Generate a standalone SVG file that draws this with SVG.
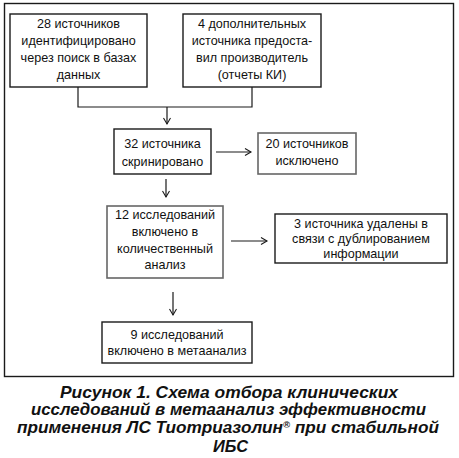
<svg xmlns="http://www.w3.org/2000/svg" width="459" height="458" viewBox="0 0 459 458">
<style>
.box{fill:#fff;stroke:#1a1a1a;stroke-width:1.4}
.gbox{fill:#fff;stroke:#666;stroke-width:1.6}
.t{font-family:"Liberation Sans",Arial,sans-serif;font-size:12.6px;fill:#111;text-anchor:middle}
.c{fill:none;stroke:#1a1a1a;stroke-width:1.2}
.cap{font-family:"Liberation Sans",Arial,sans-serif;font-size:16.4px;font-weight:bold;font-style:italic;fill:#111;text-anchor:middle}
</style>
<defs>
<marker id="arr" markerUnits="userSpaceOnUse" markerWidth="12" markerHeight="12" viewBox="-7 -6 8 12" refX="0" refY="0" orient="auto">
<path d="M-6,-3.5 L0,0 L-6,3.5" fill="none" stroke="#1a1a1a" stroke-width="1.1"/>
</marker>
</defs>
<rect x="4.5" y="3.5" width="449" height="373" fill="#fff" stroke="#1a1a1a" stroke-width="1.4"/>
<g id="n1"><rect class="box" x="10" y="14" width="137" height="73"/>
<text class="t" x="78.5" y="27.5">28 источников</text>
<text class="t" x="78.5" y="44.8">идентифицировано</text>
<text class="t" x="78.5" y="62">через поиск в базах</text>
<text class="t" x="78.5" y="79.3">данных</text></g>
<g id="n2"><rect class="box" x="183" y="14" width="138" height="73"/>
<text class="t" x="252" y="27.5">4 дополнительных</text>
<text class="t" x="252" y="44.8">источника предоста-</text>
<text class="t" x="252" y="62">вил производитель</text>
<text class="t" x="252" y="79.3">(отчеты КИ)</text></g>
<g id="n3"><rect class="box" x="114" y="129" width="97" height="45"/>
<text class="t" x="162.5" y="148">32 источника</text>
<text class="t" x="162.5" y="165.5">скринировано</text></g>
<g id="n4"><rect class="gbox" x="258" y="133" width="98" height="41"/>
<text class="t" x="307" y="148.3">20 источников</text>
<text class="t" x="307" y="164.5">исключено</text></g>
<g id="n5"><rect class="gbox" x="107" y="206" width="116" height="72"/>
<text class="t" x="165" y="218.5">12 исследований</text>
<text class="t" x="165" y="235.5">включено в</text>
<text class="t" x="165" y="252.5">количественный</text>
<text class="t" x="165" y="268.5">анализ</text></g>
<g id="n6"><rect class="box" x="275" y="214" width="172" height="49"/>
<text class="t" x="361" y="227.5">3 источника удалены в</text>
<text class="t" x="361" y="242.5">связи с дублированием</text>
<text class="t" x="361" y="257.5">информации</text></g>
<g id="n7"><rect class="box" x="102" y="322" width="150" height="41"/>
<text class="t" x="177" y="338.7">9 исследований</text>
<text class="t" x="177" y="355.3">включено в метаанализ</text></g>
<g id="connectors">
<polyline class="c" points="78,87 78,107 252,107 252,87"/>
<line class="c" x1="167" y1="107" x2="167" y2="124" marker-end="url(#arr)"/>
<line class="c" x1="216" y1="152" x2="251" y2="152" marker-end="url(#arr)"/>
<line class="c" x1="166" y1="179" x2="166" y2="197" marker-end="url(#arr)"/>
<line class="c" x1="231" y1="241" x2="267" y2="241" marker-end="url(#arr)"/>
<line class="c" x1="173" y1="292" x2="173" y2="315" marker-end="url(#arr)"/>
</g>
<g id="caption">
<text class="cap" x="229" y="397.7" textLength="338" lengthAdjust="spacingAndGlyphs">Рисунок 1. Схема отбора клинических</text>
<text class="cap" x="228.5" y="415" textLength="395" lengthAdjust="spacingAndGlyphs">исследований в метаанализ эффективности</text>
<text class="cap" x="228" y="433" textLength="422" lengthAdjust="spacingAndGlyphs">применения ЛС Тиотриазолин<tspan font-size="9" dy="-5">®</tspan><tspan dy="5"> при стабильной</tspan></text>
<text class="cap" x="230.5" y="451.7" textLength="35" lengthAdjust="spacingAndGlyphs">ИБС</text>
</g>
</svg>
